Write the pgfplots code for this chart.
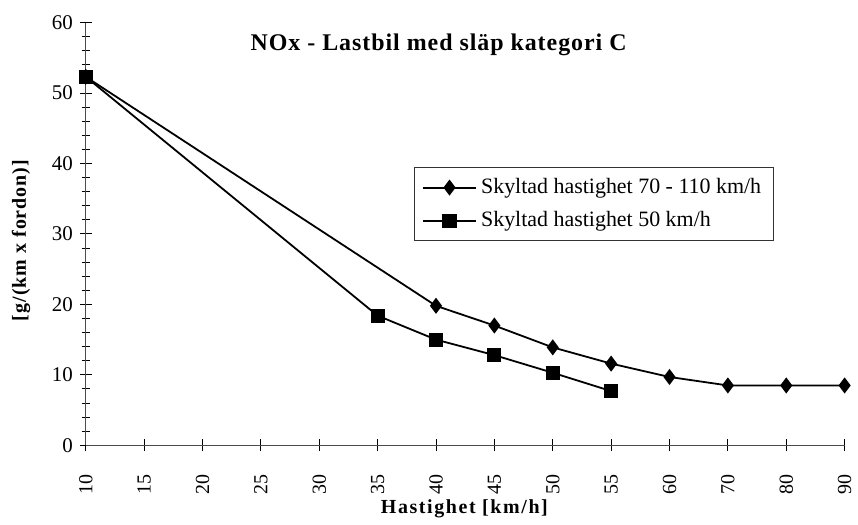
\documentclass[border=0pt]{standalone}
\usepackage{pgfplots}
\pgfplotsset{compat=1.18}
\usepackage{fontspec}
\setmainfont{Liberation Serif}
\begin{document}
\begin{tikzpicture}
\begin{axis}[
  width=380.5pt, height=212pt, scale only axis,
  xmin=0, xmax=13, ymin=0, ymax=60,
  axis lines=left,
  axis line style={-, line width=0.6pt, black!70},
  xtick={0,...,13},
  xticklabels={10,15,20,25,30,35,40,45,50,55,60,70,80,90},
  ytick={0,10,...,60},
  minor y tick num=4,
  tick align=center,
  major tick length=6pt, minor tick length=4pt,
  tick style={black, line width=0.5pt},
  xticklabel shift=8pt,
  x tick label style={rotate=90, anchor=east, font=\fontsize{10}{10}\selectfont},
  y tick label style={font=\fontsize{10.5}{10}\selectfont},
  /pgf/number format/assume math mode=true,
  xlabel={\textbf{\addfontfeature{LetterSpace=8}Hastighet [km/h]}},
  ylabel={\textbf{\addfontfeature{LetterSpace=5}[g/(km x fordon)]}},
  every axis x label/.style={at={(axis description cs:0.5,-0.15)}, anchor=center},
  every axis y label/.style={at={(axis description cs:-0.0854,0.486)}, rotate=90, anchor=center},
  label style={font=\fontsize{10}{10}\selectfont},
  legend style={at={(0.432,0.658)}, anchor=north west, draw=black!80, font=\fontsize{11}{12}\selectfont, row sep=3.5pt, inner xsep=4pt, inner ysep=3.5pt},
  legend cell align=left,
  legend image code/.code={\draw[mark repeat=2,mark phase=2] plot coordinates {(0cm,0cm) (0.47cm,0cm) (0.94cm,0cm)};},
  clip=false,
]
\addplot[black, line width=0.9pt, mark=diamond*, mark size=3.3pt, mark options={solid}] coordinates {
(0,52.3) (6,19.8) (7,17.0) (8,13.9) (9,11.6) (10,9.7) (11,8.5) (12,8.5) (13,8.5)};
\addlegendentry{Skyltad hastighet 70 - 110 km/h}
\addplot[black, line width=0.9pt, mark=square*, mark size=3.1pt, mark options={solid}] coordinates {
(0,52.3) (5,18.4) (6,15.0) (7,12.8) (8,10.3) (9,7.7)};
\addlegendentry{Skyltad hastighet 50 km/h}
\node[font=\bfseries\fontsize{12}{14}\selectfont] at (rel axis cs:0.465,0.948) {\addfontfeature{LetterSpace=4}NOx - Lastbil med släp kategori C};
\path (rel axis cs:0,0) ++(-43pt,-37pt);
\path (rel axis cs:1,1) ++(5.5pt,11.3pt);
\end{axis}
\end{tikzpicture}
\end{document}
